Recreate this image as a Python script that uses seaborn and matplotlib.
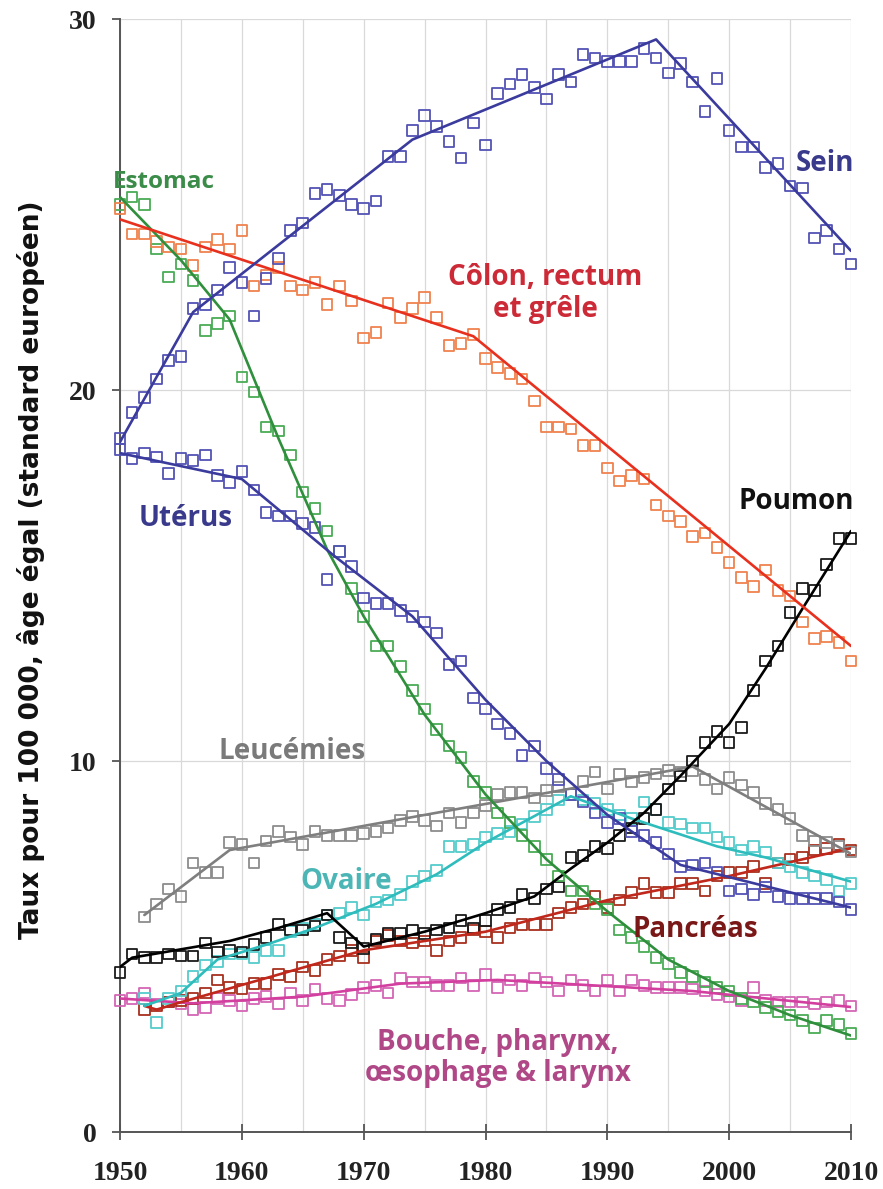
import matplotlib
matplotlib.use("Agg")
import matplotlib.pyplot as plt
import seaborn as sns
import pandas as pd

# ---------------- data ----------------
years_50 = list(range(1950, 2011))
years_52 = list(range(1952, 2011))

sein = [18.7, 19.4, 19.8, 20.3, 20.8, 20.9, 22.2, 22.3, 22.7, 23.3,
        22.9, 22.0, 23.0, 23.55, 24.3, 24.5, 25.3, 25.4, 25.25, 25.0,
        24.9, 25.1, 26.3, 26.3, 27.0, 27.4, 27.1, 26.7, 26.25, 27.2,
        26.6, 28.0, 28.25, 28.5, 28.15, 27.85, 28.5, 28.3, 29.05, 28.95,
        28.85, 28.85, 28.85, 29.2, 28.95, 28.55, 28.8, 28.3, 27.5, 28.4,
        27.0, 26.55, 26.55, 26.0, 26.1, 25.5, 25.45, 24.1, 24.3, 23.8, 23.4]
sein_trend_x = [1950, 1956, 1974, 1994, 2010]
sein_trend_y = [18.6, 22.1, 26.75, 29.45, 23.75]

uterus = [18.4, 18.15, 18.3, 18.2, 17.75, 18.15, 18.1, 18.25, 17.7, 17.5,
          17.8, 17.3, 16.7, 16.6, 16.6, 16.4, 16.3, 14.9, 15.65, 15.25,
          14.4, 14.25, 14.25, 14.05, 13.9, 13.75, 13.45, 12.6, 12.7, 11.7,
          11.4, 11.0, 10.75, 10.15, 10.4, 9.8, 9.5, 9.1, 8.9, 8.6,
          8.35, 8.45, 8.1, 8.0, 7.8, 7.5, 7.15, 7.2, 7.25, 7.0,
          6.5, 6.55, 6.4, 6.6, 6.35, 6.3, 6.3, 6.3, 6.3, 6.2, 6.0]
uterus_trend_x = [1950, 1960, 1967.5, 1974, 1980, 1985, 1990, 1996, 2010]
uterus_trend_y = [18.3, 17.6, 15.55, 13.9, 11.65, 10.0, 8.55, 7.2, 6.05]

estomac = [25.0, 25.2, 25.0, 23.8, 23.05, 23.4, 22.95, 21.6, 21.8, 22.0,
           20.35, 19.95, 19.0, 18.9, 18.25, 17.25, 16.8, 16.2, 15.65, 14.65,
           13.9, 13.1, 13.1, 12.55, 11.9, 11.4, 10.85, 10.4, 10.1, 9.45,
           9.15, 8.6, 8.35, 8.0, 7.7, 7.35, 6.9, 6.5, 6.5, 6.15,
           6.0, 5.45, 5.25, 5.0, 4.7, 4.55, 4.3, 4.2, 4.05, 3.9,
           3.8, 3.6, 3.5, 3.35, 3.25, 3.15, 3.0, 2.8, 3.0, 2.9, 2.65]
estomac_trend_x = [1950, 1955, 1959, 1963, 1967, 1970, 1975, 1980, 1985, 1990, 1995, 2000, 2005, 2010]
estomac_trend_y = [25.2, 23.5, 21.9, 18.7, 15.7, 13.9, 11.25, 9.1, 7.35, 5.95, 4.65, 3.8, 3.15, 2.6]

colon = [24.9, 24.2, 24.2, 24.0, 23.85, 23.8, 23.35, 23.85, 24.05, 23.8,
         24.3, 22.8, 23.1, 23.3, 22.8, 22.7, 22.9, 22.3, 22.8, 22.4,
         21.4, 21.55, 22.35, 21.95, 22.2, 22.5, 21.95, 21.2, 21.25, 21.5,
         20.85, 20.6, 20.45, 20.3, 19.7, 19.0, 19.0, 18.95, 18.5, 18.5,
         17.9, 17.55, 17.7, 17.6, 16.9, 16.6, 16.45, 16.05, 16.15, 15.75,
         15.35, 14.95, 14.7, 15.15, 14.6, 14.45, 13.75, 13.3, 13.35, 13.2, 12.7]
colon_trend_x = [1950, 1979, 2010]
colon_trend_y = [24.6, 21.45, 13.1]

leucemies = [5.8, 6.15, 6.55, 6.35, 7.25, 7.0, 7.0, 7.8,
             7.75, 7.25, 7.85, 8.1, 7.95, 7.75, 8.1, 8.0, 8.0, 8.0,
             8.05, 8.1, 8.2, 8.4, 8.5, 8.4, 8.25, 8.6, 8.35, 8.6,
             8.8, 9.1, 9.15, 9.15, 9.0, 9.2, 9.3, 9.1, 9.45, 9.7,
             9.25, 9.65, 9.45, 9.55, 9.65, 9.75, 9.7, 9.75, 9.5, 9.25,
             9.55, 9.35, 9.15, 8.85, 8.7, 8.45, 8.0, 7.85, 7.8, 7.7, 7.55]
leucemies_trend_x = [1952, 1959, 1997, 2010]
leucemies_trend_y = [5.85, 7.6, 9.85, 7.5]

ovaire = [3.6, 2.95, 3.6, 3.8, 4.2, 4.5, 4.6, 4.8,
          4.8, 4.7, 4.9, 4.9, 5.4, 5.5, 5.6, 5.85, 5.9, 6.05,
          5.85, 6.2, 6.25, 6.4, 6.75, 6.9, 7.05, 7.7, 7.7, 7.75,
          7.95, 8.05, 8.1, 8.3, 8.5, 8.7, 8.95, 9.1, 8.95, 8.85,
          8.7, 8.55, 8.45, 8.9, 8.7, 8.35, 8.3, 8.2, 8.2, 7.95,
          7.8, 7.6, 7.7, 7.55, 7.25, 7.15, 7.0, 6.9, 6.8, 6.5, 6.7]
ovaire_trend_x = [1952, 1955, 1958, 1962, 1966, 1971, 1976, 1980, 1987, 1992, 1999, 2003, 2010]
ovaire_trend_y = [3.4, 3.75, 4.65, 5.05, 5.5, 6.15, 6.95, 7.8, 9.05, 8.45, 7.7, 7.4, 6.75]

poumon = [4.3, 4.8, 4.7, 4.7, 4.8, 4.75, 4.75, 5.1, 4.85, 4.9,
          4.85, 5.05, 5.25, 5.6, 5.45, 5.45, 5.55, 5.85, 5.25, 5.1,
          4.95, 5.2, 5.35, 5.35, 5.45, 5.35, 5.45, 5.5, 5.7, 5.5,
          5.7, 6.0, 6.05, 6.4, 6.3, 6.55, 6.6, 7.4, 7.45, 7.7,
          7.65, 8.0, 8.2, 8.45, 8.7, 9.25, 9.6, 10.0, 10.5, 10.8,
          10.5, 10.9, 11.9, 12.7, 13.1, 14.0, 14.65, 14.6, 15.3, 16.0, 16.0]
poumon_trend_x = [1950, 1951, 1959, 1963, 1967, 1970, 1975, 1980, 1984, 1987, 1990, 1993, 1996, 2000, 2003, 2006, 2010]
poumon_trend_y = [4.45, 4.7, 5.15, 5.5, 5.9, 5.0, 5.4, 5.9, 6.35, 7.1, 7.8, 8.6, 9.6, 11.0, 12.5, 14.1, 16.2]

pancreas = [3.3, 3.4, 3.5, 3.55, 3.6, 3.75, 4.1, 3.9,
            3.85, 4.0, 4.0, 4.25, 4.2, 4.45, 4.35, 4.65, 4.75, 4.9,
            4.7, 5.15, 5.3, 5.15, 5.1, 5.15, 4.9, 5.15, 5.25, 5.45,
            5.4, 5.25, 5.5, 5.6, 5.6, 5.6, 5.9, 6.05, 6.15, 6.35,
            6.05, 6.25, 6.45, 6.7, 6.45, 6.45, 6.7, 6.7, 6.5, 6.9,
            7.0, 7.0, 7.15, 6.7, 7.25, 7.35, 7.4, 7.6, 7.65, 7.75, 7.6]
pancreas_trend_x = [1952, 1953, 1955, 1962, 1970, 1980, 1990, 2000, 2010]
pancreas_trend_y = [3.4, 3.3, 3.5, 4.15, 4.9, 5.4, 6.25, 6.9, 7.65]

bouche = [3.55, 3.6, 3.75, 3.45, 3.5, 3.45, 3.3, 3.35, 3.6, 3.55,
          3.4, 3.6, 3.65, 3.45, 3.75, 3.55, 3.85, 3.6, 3.55, 3.7,
          3.9, 3.95, 3.75, 4.15, 4.05, 4.05, 3.95, 3.95, 4.15, 3.95,
          4.25, 3.9, 4.1, 3.95, 4.15, 4.05, 3.8, 4.1, 3.95, 3.8,
          4.1, 3.8, 4.1, 3.95, 3.9, 3.9, 3.9, 3.85, 3.8, 3.7,
          3.65, 3.55, 3.9, 3.55, 3.5, 3.5, 3.5, 3.45, 3.5, 3.55, 3.4]
bouche_trend_x = [1950, 1956, 1965, 1973, 1981, 1989, 1997, 2010]
bouche_trend_y = [3.6, 3.47, 3.65, 4.0, 4.1, 3.95, 3.8, 3.37]

# ---------------- styling ----------------
sns.set_theme(style="white")
plt.rcParams["font.family"] = ["DejaVu Sans"]

series = [
    # years, values, trend x, trend y, marker color, line color
    (years_50, bouche, bouche_trend_x, bouche_trend_y, "#d466b4", "#d33f9f"),
    (years_52, pancreas, pancreas_trend_x, pancreas_trend_y, "#a8301f", "#c0281c"),
    (years_52, ovaire, ovaire_trend_x, ovaire_trend_y, "#55cccc", "#2fbcbc"),
    (years_52, leucemies, leucemies_trend_x, leucemies_trend_y, "#8c8c8c", "#7f7f7f"),
    (years_50, poumon, poumon_trend_x, poumon_trend_y, "#1a1a1a", "#000000"),
    (years_50, estomac, estomac_trend_x, estomac_trend_y, "#4aab55", "#2f8f3c"),
    (years_50, colon, colon_trend_x, colon_trend_y, "#f0824f", "#e8301f"),
    (years_50, uterus, uterus_trend_x, uterus_trend_y, "#5353b5", "#3b3b9e"),
    (years_50, sein, sein_trend_x, sein_trend_y, "#5353b5", "#3b3b9e"),
]

fig = plt.figure(figsize=(8.83, 11.89), dpi=100)
ax = fig.add_axes([0.1359, 0.0479, 0.8279, 0.9361])

for yrs, vals, tx, ty, mc, lc in series:
    df = pd.DataFrame({"annee": yrs, "taux": vals})
    sns.scatterplot(data=df, x="annee", y="taux", marker="s", s=58,
                    facecolors="none", edgecolors=mc, linewidth=1.3,
                    ax=ax, zorder=3, clip_on=False)
    tdf = pd.DataFrame({"annee": tx, "taux": ty})
    sns.lineplot(data=tdf, x="annee", y="taux", color=lc, linewidth=1.9,
                 ax=ax, zorder=4, estimator=None, sort=False)

ax.set_xlim(1950, 2010)
ax.set_ylim(0, 30)
ax.set_xticks([1950, 1960, 1970, 1980, 1990, 2000, 2010])
ax.set_xticks(list(range(1955, 2011, 10)), minor=True)
ax.set_yticks([0, 10, 20, 30])

ax.grid(True, which="both", axis="x", color="#d9d9d9", linewidth=0.9)
ax.grid(True, which="major", axis="y", color="#d9d9d9", linewidth=0.9)
ax.set_axisbelow(True)

for s in ["top", "right"]:
    ax.spines[s].set_visible(False)
for s in ["left", "bottom"]:
    ax.spines[s].set_color("#555555")
    ax.spines[s].set_linewidth(1.4)

ax.tick_params(axis="x", which="major", direction="inout", length=11, width=1.3,
               color="#555555", pad=15, bottom=True)
ax.tick_params(axis="x", which="minor", length=0)
ax.tick_params(axis="y", which="major", direction="out", length=6, width=1.3,
               color="#555555", pad=11, left=True)
for lab in ax.get_xticklabels() + ax.get_yticklabels():
    lab.set_fontfamily(["Liberation Serif", "DejaVu Serif"])
    lab.set_fontweight("bold")
    lab.set_fontsize(20)
    lab.set_color("#222222")

ax.set_xlabel("")
ax.set_ylabel("Taux pour 100 000, âge égal (standard européen)",
              fontsize=19, fontweight="bold",
              family=["Liberation Sans Narrow", "DejaVu Sans"], color="#111111")
ax.yaxis.set_label_coords(-0.103, 0.505)

lab_font = ["Open Sans", "DejaVu Sans"]
def label(x, y, txt, color, ha="center", size=20):
    ax.text(x, y, txt, color=color, fontsize=size, fontweight="bold",
            family=lab_font, ha=ha, va="center", zorder=6, clip_on=False,
            linespacing=1.1)

label(1949.4, 25.6, "Estomac", "#3a8c48", ha="left", size=17.5)
label(2007.9, 26.1, "Sein", "#3a3a8c")
label(1984.9, 22.6, "Côlon, rectum\net grêle", "#cc2a36")
label(1955.4, 16.55, "Utérus", "#3a3a8c")
label(2005.5, 17.0, "Poumon", "#111111")
label(1964.1, 10.25, "Leucémies", "#7a7a7a")
label(1968.6, 6.75, "Ovaire", "#4cb6b6")
label(1997.2, 5.45, "Pancréas", "#7a1818")
label(1981.0, 2.0, "Bouche, pharynx,\nœsophage & larynx", "#b04888")

fig.savefig("out.png", dpi=100)
